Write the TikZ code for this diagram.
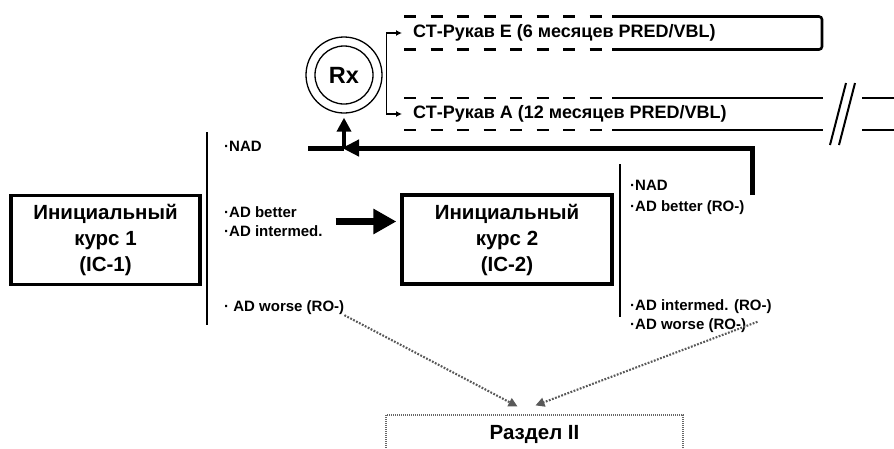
\documentclass[tikz,border=0pt]{standalone}
\usepackage{fontspec}
\setmainfont{Liberation Sans}
\usetikzlibrary{arrows.meta,calc}

\begin{document}
\begin{tikzpicture}[x=1pt,y=-1pt]

\tikzset{course/.style = {draw, line width=3.2pt, minimum width=189, minimum height=89, align=center, font=\fontsize{20.5}{26}\selectfont\bfseries}}
\tikzset{lbl/.style = {anchor=west, inner sep=0pt, align=left, font=\fontsize{15}{19}\selectfont\bfseries}}
\tikzset{arm/.style = {anchor=west, inner xsep=11pt, inner ysep=0pt, font=\fontsize{18}{20}\selectfont\bfseries}}
\tikzset{band/.style = {line width=2.6pt}}
\tikzset{bandgap/.style = {band, dash pattern=on 12pt off 14.5pt}}
\tikzset{sep/.style = {line width=2.4pt}}
\tikzset{back/.style = {line width=5pt, -{Triangle[length=17pt,width=16pt]}}}
\tikzset{move/.style = {line width=6.5pt, -{Triangle[length=23pt,width=24pt]}}}
\tikzset{branch/.style = {line width=1.3pt, {Latex[length=6pt,width=6pt]}-{Latex[length=6pt,width=6pt]}}}
\tikzset{toII/.style = {draw=black!65, line width=2.1pt, dash pattern=on 1.8pt off 1.5pt, -{Triangle[length=9pt,width=9pt]}}}

\useasboundingbox (0,0) rectangle (894,448);

% courses
\node[course] (ic1) at (105.5,240) {Инициальный\\курс 1\\(IC-1)};
\node[course, minimum width=210] (ic2) at (507,239.5) {Инициальный\\курс 2\\(IC-2)};
\node[draw=black!60, line width=1.2pt, dash pattern=on 1pt off 1pt, minimum width=297, minimum height=38,
      font=\fontsize{20.5}{24}\selectfont\bfseries] (sect) at (534.5,434) {Раздел II};

% responses
\draw[sep] (207,132) -- (207,325);
\node[lbl] (nad1) at (224,146) {·NAD};
\node[lbl] (better1) at (224,221.5) {·AD better\\·AD intermed.};
\node[lbl] (worse1) at (224,308) {· AD worse (RO-)};

\draw[sep] (620,164) -- (620,317);
\node[lbl, font=\fontsize{15}{21}\selectfont\bfseries] (better2) at (630,197.5) {·NAD\\·AD better (RO-)};
\node[lbl] (inter2) at (630,307) {·AD intermed. (RO-)};
\node[lbl] (worse2) at (630,326) {·AD worse (RO-)};

% randomisation
\node[circle, draw, line width=1.3pt, minimum size=58, font=\fontsize{23.5}{26}\selectfont\bfseries] (rx) at (344,75) {Rx};
\node[circle, draw, line width=1.3pt, minimum size=76] (rxo) at (rx) {};

\node[arm] (armE) at (402,33) {СТ-Рукав Е (6 месяцев PRED/VBL)};
\node[arm] (armA) at (402,114) {СТ-Рукав А (12 месяцев PRED/VBL)};

% arms
\draw[bandgap] (404,16.5) -- (612,16.5);
\draw[bandgap] (404,49.5) -- (612,49.5);
\draw[band, rounded corners=3pt] (612,16.5) -- (822,16.5) -- (822,49.5) -- (612,49.5);
\draw[bandgap] (404,98) -- (612,98);
\draw[bandgap] (404,130) -- (612,130);
\draw[band] (612,98) -- (823,98);
\draw[band] (612,130) -- (823,130);
\draw[band] (862,98) -- (894,98);
\draw[band] (862,130) -- (894,130);
\draw[line width=2pt] (830,145) -- (846,83);
\draw[line width=2pt] (839,145) -- (855,83);

%edges
\coordinate (fbstart) at (752,195);
\coordinate (nadend) at (308,148);
\coordinate (jn) at (rxo.south |- nadend);
\draw[branch] (armE.west) -| ([xshift=4pt]rxo.east) |- (armA.west);
\draw[line width=5pt] (nadend) -- (jn);
\draw[back, shorten >=-2pt] (fbstart) |- (jn);
\draw[line width=3.5pt, -{Triangle[length=14pt,width=14pt]}, shorten >=4pt] (jn) -- (rxo.south);
\draw[move, shorten <=13pt, shorten >=4pt] (better1.east) -- (better1.east -| ic2.west);
\draw[toII] (worse1.south east) -- ($(sect.north)+(-17,-8)$);
\draw[toII, shorten <=-12pt] (worse2.east) -- ($(sect.north)+(1,-9)$);
\end{tikzpicture}
\end{document}
